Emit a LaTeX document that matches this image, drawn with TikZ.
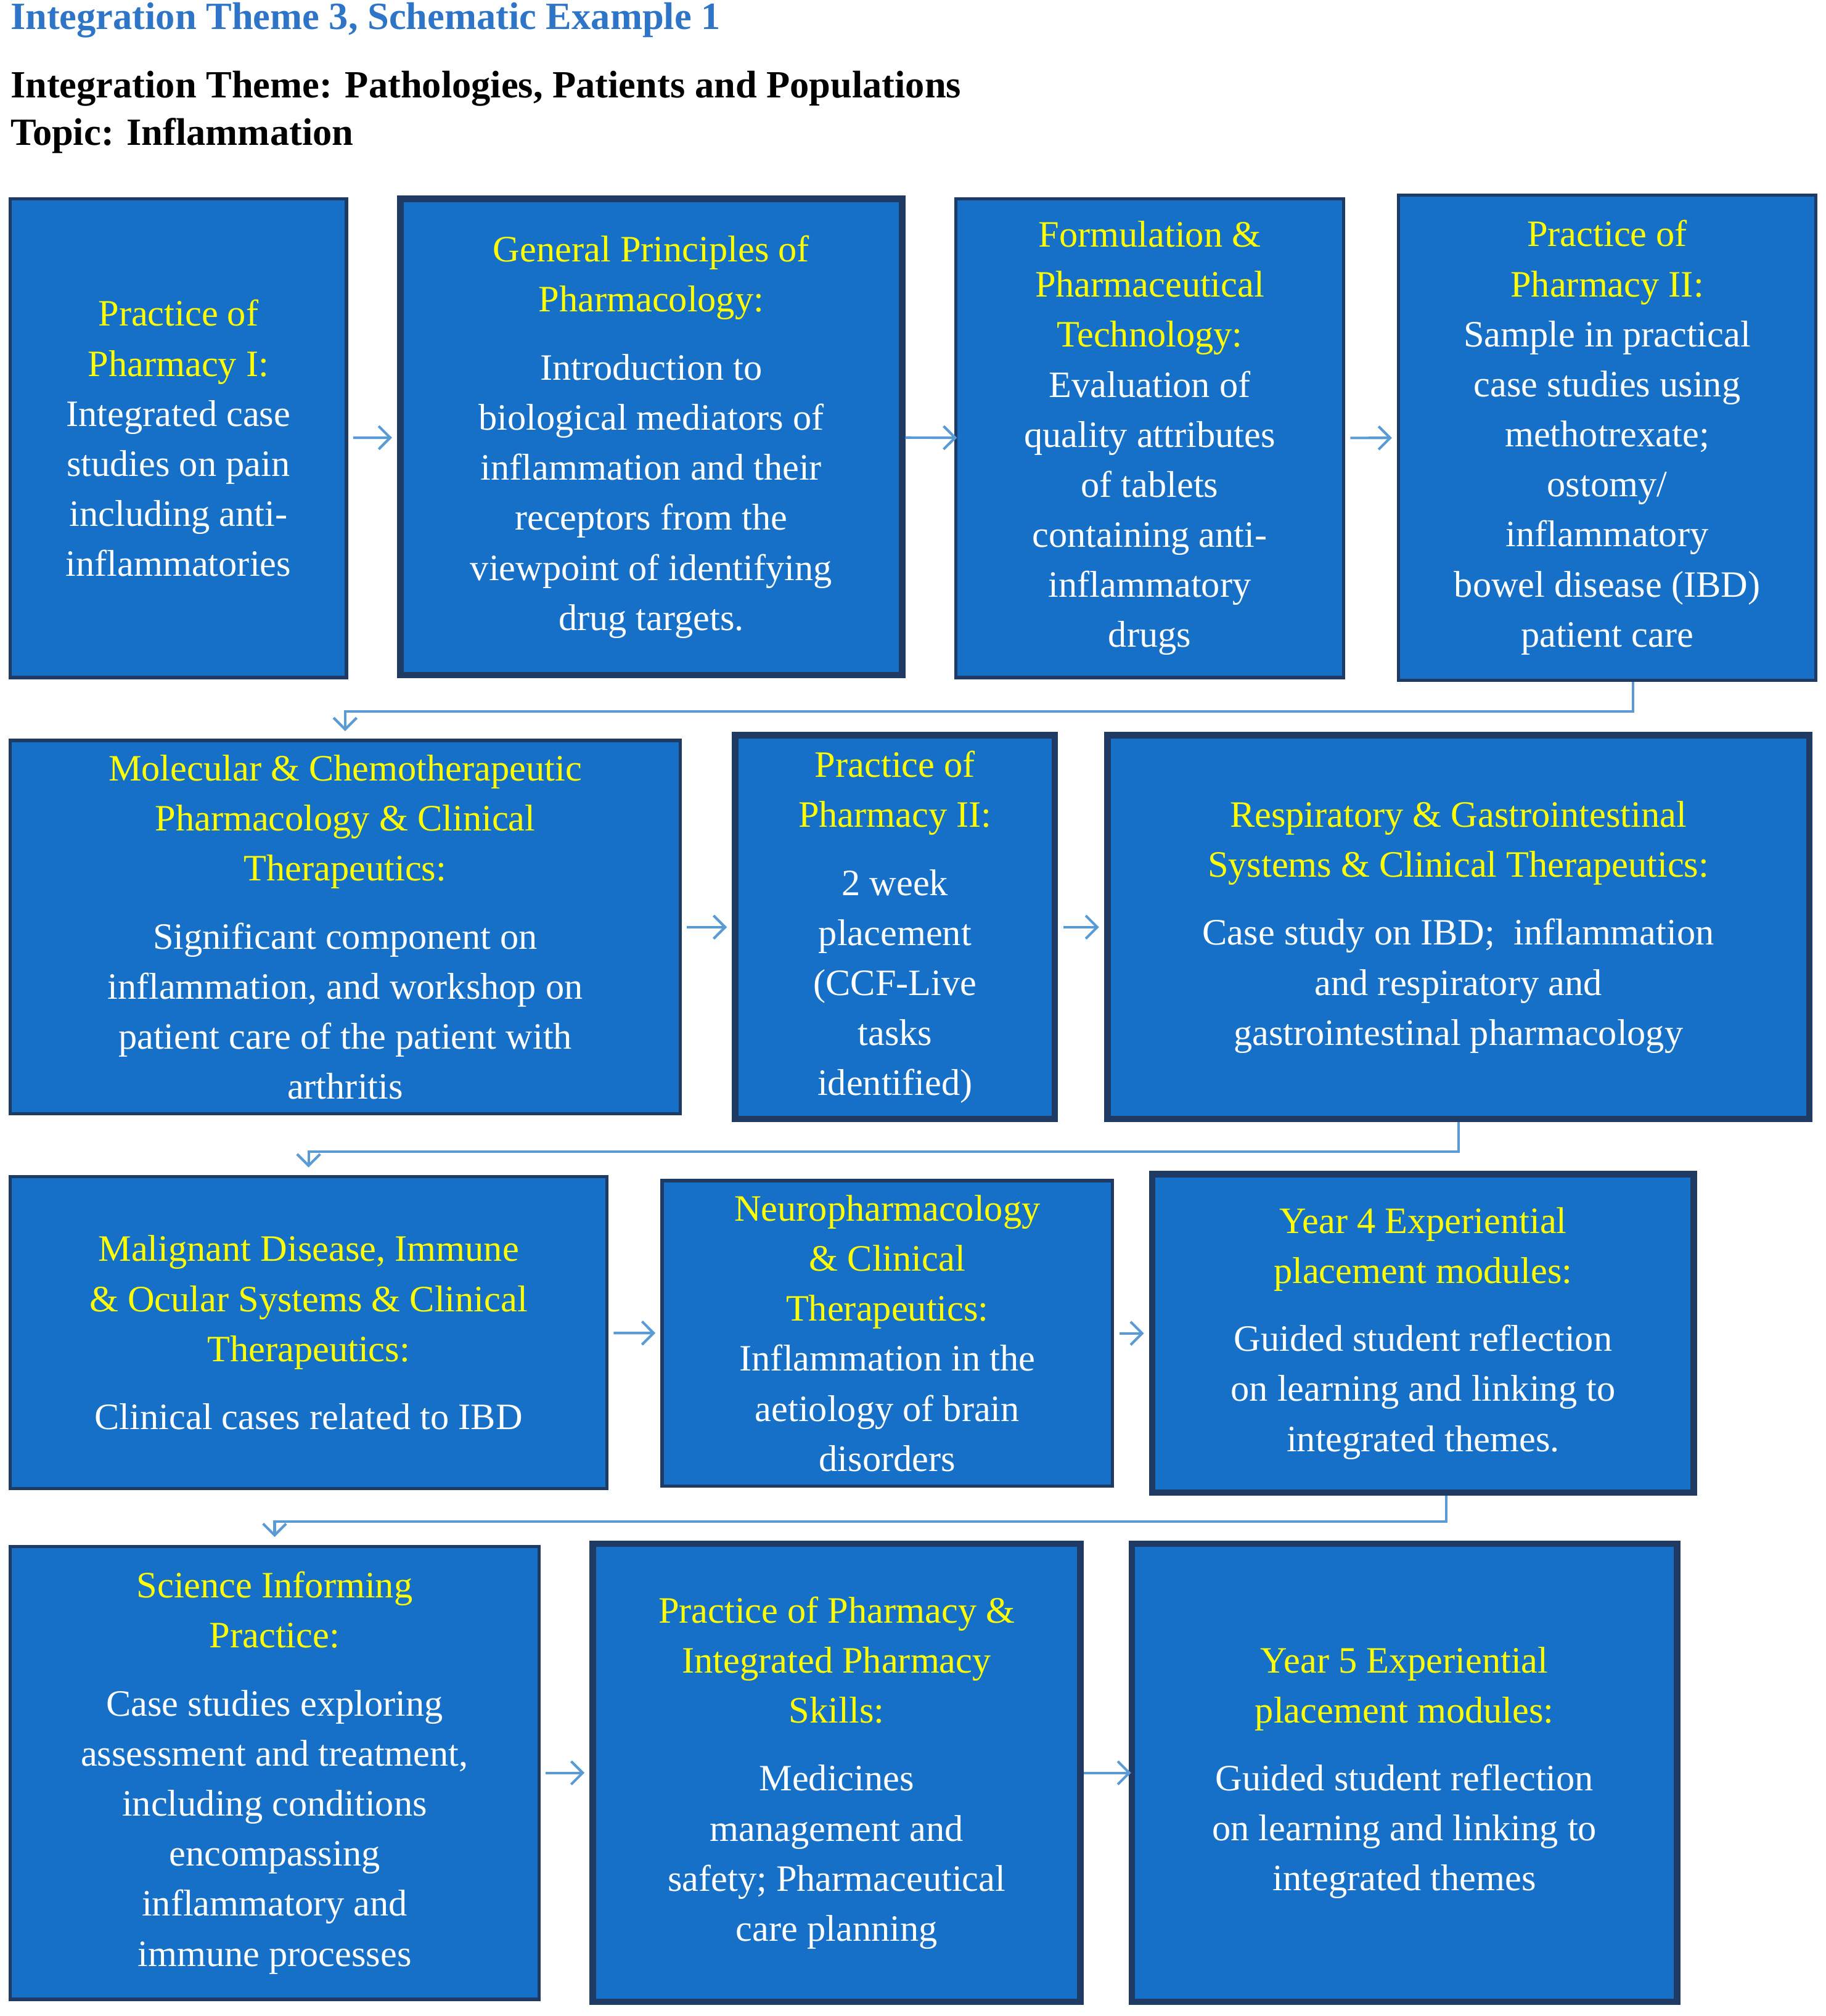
\documentclass[tikz,border=0pt]{standalone}
\usepackage{fontspec}
\setmainfont{Liberation Serif}
\usetikzlibrary{arrows.meta,calc}
\definecolor{bf}{HTML}{1670C8}
\definecolor{bd}{HTML}{1F3B63}
\definecolor{cn}{HTML}{5B9BD5}
\definecolor{tt}{HTML}{2E75C8}
\definecolor{yl}{HTML}{FFFF00}
\newcommand{\hd}[1]{\textcolor{yl}{#1}}
\begin{document}
\begin{tikzpicture}[x=1pt,y=1pt,
  box/.style={draw=bd,line width=2.5pt,fill=bf,inner sep=0pt,align=center,text=white,
     font=\fontsize{29}{39}\selectfont},
  thk/.style={line width=5pt},
  conn/.style={draw=cn,line width=2pt,-{Straight Barb[length=9pt,width=18pt]}},
  harr/.style={conn,shorten <=4pt,shorten >=4pt}]
\useasboundingbox (0,0) rectangle (1423,-1571);
\node[anchor=north west,text=tt,font=\bfseries\fontsize{30}{36}\selectfont,inner sep=0] (t1) at (8,-2) {Integration Theme 3, Schematic Example 1};
\node[anchor=north west,align=left,font=\bfseries\fontsize{30}{37}\selectfont,inner sep=0] (t2) at (8,-55) {Integration Theme: Pathologies, Patients and Populations\\Topic: Inflammation};

\node[box,minimum width=262,minimum height=373] (A1) at (139,-341.5) {\hd{Practice of}\\\hd{Pharmacy I:}\\Integrated case\\studies on pain\\including anti-\\inflammatories};
\node[box,thk,minimum width=391,minimum height=371] (A2) at (507.5,-340.5) {\hd{General Principles of}\\\hd{Pharmacology:}\\[14pt]Introduction to\\biological mediators of\\inflammation and their\\receptors from the\\viewpoint of identifying\\drug targets.};
\node[box,minimum width=302,minimum height=373] (A3) at (896,-341.5) {\hd{Formulation \&}\\\hd{Pharmaceutical}\\\hd{Technology:}\\Evaluation of\\quality attributes\\of tablets\\containing anti-\\inflammatory\\drugs};
\node[box,minimum width=325,minimum height=378] (A4) at (1252.5,-341) {\hd{Practice of}\\\hd{Pharmacy II:}\\Sample in practical\\case studies using\\methotrexate;\\ostomy/\\inflammatory\\bowel disease (IBD)\\patient care};

\node[box,minimum width=522,minimum height=291] (B1) at (269,-722.5) {\hd{Molecular \& Chemotherapeutic}\\\hd{Pharmacology \& Clinical}\\\hd{Therapeutics:}\\[14pt]Significant component on\\inflammation, and workshop on\\patient care of the patient with\\arthritis};
\node[box,thk,minimum width=249,minimum height=299] (B2) at (697.5,-722.5) {\hd{Practice of}\\\hd{Pharmacy II:}\\[14pt]2 week\\placement\\(CCF-Live\\tasks\\identified)};
\node[box,thk,minimum width=547,minimum height=299] (B3) at (1136.5,-722.5) {\hd{Respiratory \& Gastrointestinal}\\\hd{Systems \& Clinical Therapeutics:}\\[14pt]Case study on IBD;\ \ inflammation\\and respiratory and\\gastrointestinal pharmacology};

\node[box,minimum width=465,minimum height=243] (C1) at (240.5,-1038.5) {\hd{Malignant Disease, Immune}\\\hd{\& Ocular Systems \& Clinical}\\\hd{Therapeutics:}\\[14pt]Clinical cases related to IBD};
\node[box,minimum width=351,minimum height=238] (C2) at (691.5,-1039) {\hd{Neuropharmacology}\\\hd{\& Clinical}\\\hd{Therapeutics:}\\Inflammation in the\\aetiology of brain\\disorders};
\node[box,thk,minimum width=422,minimum height=248] (C3) at (1109,-1039) {\hd{Year 4 Experiential}\\\hd{placement modules:}\\[14pt]Guided student reflection\\on learning and linking to\\integrated themes.};

\node[box,minimum width=412,minimum height=353] (D1) at (214,-1381.5) {\hd{Science Informing}\\\hd{Practice:}\\[14pt]Case studies exploring\\assessment and treatment,\\including conditions\\encompassing\\inflammatory and\\immune processes};
\node[box,thk,minimum width=380,minimum height=357] (D2) at (652,-1381.5) {\hd{Practice of Pharmacy \&}\\\hd{Integrated Pharmacy}\\\hd{Skills:}\\[14pt]Medicines\\management and\\safety; Pharmaceutical\\care planning};
\node[box,thk,minimum width=425,minimum height=357] (D3) at (1094.5,-1381.5) {\hd{Year 5 Experiential}\\\hd{placement modules:}\\[14pt]Guided student reflection\\on learning and linking to\\integrated themes};

\draw[harr] (A1) -- (A2);
\draw[conn,shorten >=-2pt] (A2) -- (A3);
\draw[harr] (A3) -- (A4);
\draw[harr] (B1) -- (B2);
\draw[harr] (B2) -- (B3);
\draw[harr] (C1) -- (C2);
\draw[harr] (C2) -- (C3);
\draw[harr] (D1) -- (D2);
\draw[conn,shorten >=-2pt] (D2) -- (D3);

\coordinate (a4s) at ($(A4.south)+(20,0)$);
\coordinate (c3s) at ($(C3.south)+(18,0)$);
\draw[conn,shorten >=6pt] (a4s) -- ++(0,-23) -| (B1.north);
\draw[conn,shorten >=6pt] (B3.south) -- ++(0,-23) -| (C1.north);
\draw[conn,shorten >=6pt] (c3s) -- ++(0,-20) -| (D1.north);
\end{tikzpicture}
\end{document}
